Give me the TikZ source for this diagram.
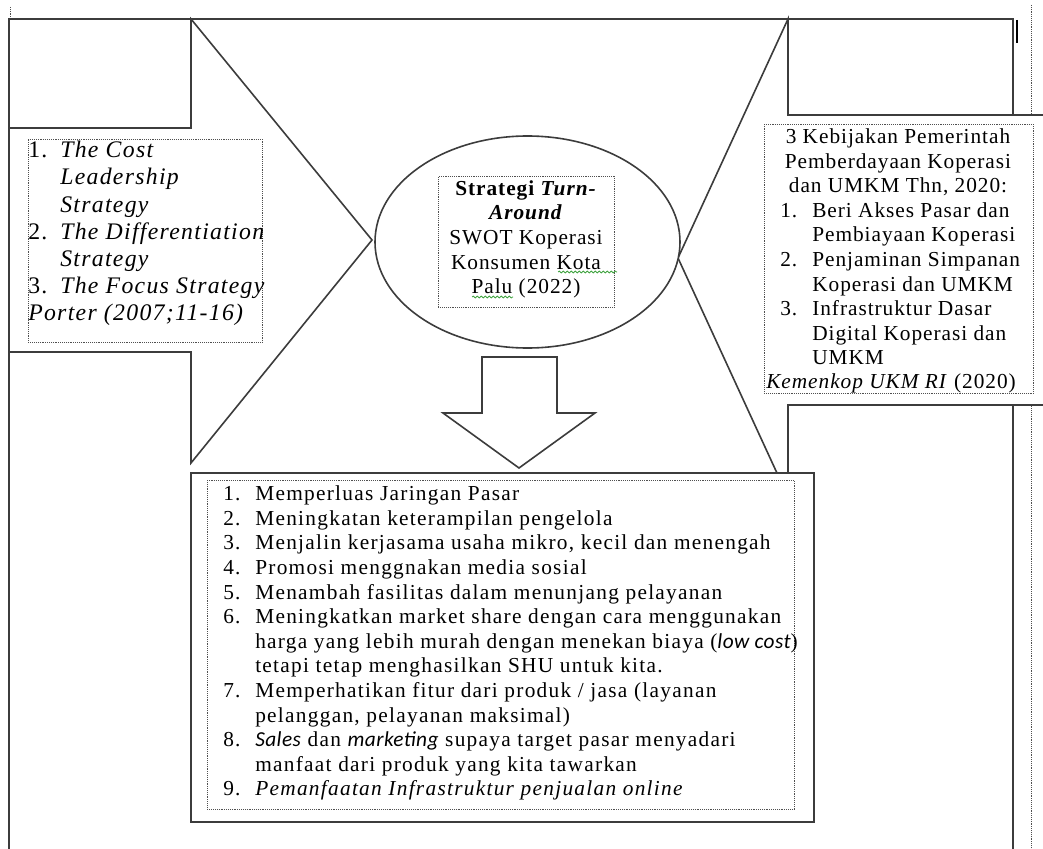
\documentclass[tikz,border=0pt]{standalone}
\usepackage{fontspec}
\setmainfont{Liberation Serif}[LetterSpace=4.5]
\newfontfamily\widefont{Liberation Serif}[LetterSpace=6]
\newfontfamily\citefont{Liberation Serif}[LetterSpace=5.5]
\newfontfamily\calfont{Carlito}[LetterSpace=2]
\usetikzlibrary{shapes.geometric,decorations.pathmorphing}
\definecolor{linegray}{HTML}{3C3C3C}
\definecolor{dotgray}{HTML}{505050}
\definecolor{spellgreen}{HTML}{3FA33F}
\newcommand{\num}[1]{\makebox[24pt][l]{#1}}
\newcommand{\ind}{\hspace*{24pt}}
\begin{document}
\begin{tikzpicture}[x=0.75pt,y=-0.75pt,
  outline/.style={draw=linegray,line width=1.2pt,line join=miter},
  dotbox/.style={draw=dotgray,line width=0.7pt,dash pattern=on 0.7pt off 0.7pt},
  framebox/.style={dotbox,rectangle,inner sep=0pt,anchor=north west},
  body/.style={font=\fontsize{16}{18.45}\selectfont,inner sep=0pt,align=left,text=black},
  widebody/.style={font=\widefont\fontsize{16}{18.45}\selectfont,inner sep=0pt,align=left,text=black},
  cite/.style={font=\citefont\fontsize{17.8}{20.4}\selectfont,inner sep=0pt,align=left,text=black},
  spell/.style={draw=spellgreen,line width=0.6pt,decorate,
    decoration={snake,amplitude=0.7pt,segment length=3pt}}]
\useasboundingbox (0,0) rectangle (1043,849);

% page margin guides
\draw[dotbox] (10,7) -- (10,19);
\draw[dotbox] (1031,5) -- (1031,849);

% outer frame
\draw[outline] (9,849) -- (9,19) -- (1013,19) -- (1013,849);

% block arrow from the left (generic strategies)
\draw[outline,fill=white] (9,128) -- (191,128) -- (191,19) -- (372,240)
  -- (191,463) -- (191,352) -- (9,352) -- cycle;

% block arrow from the right (government policy)
\draw[outline,fill=white] (1043,115) -- (788,115) -- (788,19) -- (678,258)
  -- (788,497) -- (788,405) -- (1043,405);

% cursor bar
\draw[black,line width=2.2pt] (1017,20) -- (1017,43);

% central ellipse
\node[ellipse,draw=linegray,line width=1.2pt,fill=white,inner sep=0pt,
  minimum width=228.75pt,minimum height=159pt] (core) at (527.5,242) {};

% block arrow pointing down
\draw[outline,fill=white] (482,357) -- (557,357) -- (557,413) -- (595,413)
  -- (519,468) -- (443,413) -- (482,413) -- cycle;

% box of action points
\node[rectangle,draw=linegray,line width=1.2pt,fill=white,inner sep=0pt,
  anchor=north west,minimum width=467.25pt,minimum height=261.75pt] (actions) at (190,472) {};

% dotted text frames
\node[framebox,minimum width=175.5pt,minimum height=152.25pt] (porterbox) at (28,139) {};
\node[framebox,minimum width=201.75pt,minimum height=201.75pt] (policybox) at (764,124) {};
\node[framebox,minimum width=132pt,minimum height=98.25pt] (corebox) at (438,176) {};
\node[framebox,minimum width=440.25pt,minimum height=246.75pt] (actionbox) at (207,480) {};

% generic strategies
\node[cite,anchor=north west] (porter) at (28,138.3) {%
\strut\num{1.}\textit{The Cost}\\
\ind\textit{Leadership}\\
\ind\textit{Strategy}\\
\num{2.}\textit{The Differentiation}\\
\ind\textit{Strategy}\\
\num{3.}\textit{The Focus Strategy}\\
\textit{Porter (2007;11-16)}};

% government policy
\node[body,anchor=north,align=center] (policyhead) at (898,126.3) {%
\strut 3 Kebijakan Pemerintah\\
Pemberdayaan Koperasi\\
dan UMKM Thn, 2020:};
\node[body,anchor=north west] (policylist) at (780,199.8) {%
\strut\num{1.}Beri Akses Pasar dan\\
\ind Pembiayaan Koperasi\\
\num{2.}Penjaminan Simpanan\\
\ind Koperasi dan UMKM\\
\num{3.}Infrastruktur Dasar\\
\ind Digital Koperasi dan\\
\ind UMKM};
\node[body,anchor=north west] (policysrc) at (766,371.3) {%
\strut\textit{Kemenkop UKM RI} (2020)};

% central strategy
\node[body,anchor=north,align=center] (coretext) at (526,177.8) {%
\strut\textbf{Strategi \textit{Turn-}}\\
\textbf{\textit{Around}}\\
SWOT Koperasi\\
Konsumen Kota\\
Palu (2022)};
\draw[spell] (558,272) -- (617,272);
\draw[spell] (472,297) -- (513,297);

% action points
\node[widebody,anchor=north west] (actiontext) at (223,483.3) {%
\strut\num{1.}Memperluas Jaringan Pasar\\
\num{2.}Meningkatan keterampilan pengelola\\
\num{3.}Menjalin kerjasama usaha mikro, kecil dan menengah\\
\num{4.}Promosi menggnakan media sosial\\
\num{5.}Menambah fasilitas dalam menunjang pelayanan\\
\num{6.}Meningkatkan market share dengan cara menggunakan\\
\ind harga yang lebih murah dengan menekan biaya ({\calfont\itshape low cost})\\
\ind tetapi tetap menghasilkan SHU untuk kita.\\
\num{7.}Memperhatikan fitur dari produk / jasa (layanan\\
\ind pelanggan, pelayanan maksimal)\\
\num{8.}{\calfont\itshape Sales} dan {\calfont\itshape marketing} supaya target pasar menyadari\\
\ind manfaat dari produk yang kita tawarkan\\
\num{9.}\textit{Pemanfaatan Infrastruktur penjualan online}};
\end{tikzpicture}
\end{document}
